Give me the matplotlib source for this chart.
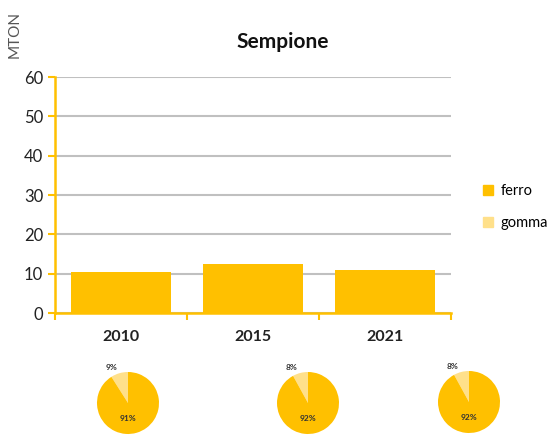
import matplotlib.pyplot as plt
import matplotlib.patches as mpatches

plt.rcParams['font.family'] = ['Lato', 'DejaVu Sans']

anni = ['2010', '2015', '2021']
ferro = [10.3, 12.5, 10.9]
gomma = [0, 0, 0]
quota_gomma = [9, 8, 8]
quota_ferro = [91, 92, 92]

arancio = '#FFC000'
chiaro = '#FFE08A'

fig = plt.figure(figsize=(5.57, 4.43), dpi=100)
ax = fig.add_axes([55/557, 1 - 313/443, 396/557, 236/443])

x = range(len(anni))
ax.bar(x, ferro, width=0.76, color=arancio, zorder=3)
ax.bar(x, gomma, bottom=ferro, width=0.76, color=chiaro, zorder=3)

ax.set_xlim(-0.5, 2.5)
ax.set_ylim(0, 60)
ax.set_yticks(range(0, 61, 10))
ax.set_xticks(list(x))
ax.set_xticklabels(anni, fontweight='bold', fontsize=11.5)
ax.tick_params(axis='y', labelsize=12, colors=arancio, labelcolor='#222222',
               length=5, width=1.5, direction='out')
ax.tick_params(axis='x', length=0, pad=12, labelcolor='#222222')
# tacche tra le categorie
ax.set_xticks([-0.5, 0.5, 1.5, 2.5], minor=True)
ax.tick_params(axis='x', which='minor', length=5, width=1.5, colors=arancio)

ax.grid(axis='y', color='#c0c0c0', linewidth=1.5, zorder=0)
for s in ['top', 'right']:
    ax.spines[s].set_visible(False)
for s in ['left', 'bottom']:
    ax.spines[s].set_color(arancio)
    ax.spines[s].set_linewidth(1.8)

fig.text(283/557, 1 - 42/443, 'Sempione', ha='center', va='center',
         fontsize=15, fontweight='bold', color='#111111')
fig.text(15/557, 1 - 34/443, 'MTON', rotation=90, ha='center', va='center',
         fontsize=11, color='#555555', fontweight='normal')

handles = [mpatches.Patch(color=arancio, label='ferro'),
           mpatches.Patch(color=chiaro, label='gomma')]
fig.legend(handles=handles, loc='center left', bbox_to_anchor=(470/557, 1 - 207/443),
           frameon=False, fontsize=10.5, handlelength=0.7, handleheight=0.7,
           labelspacing=1.2, handletextpad=0.5)

# torte sotto il grafico
centri = [(128, 403), (308, 403), (469, 402)]
r = 31
for (cx, cy), g, f in zip(centri, quota_gomma, quota_ferro):
    pax = fig.add_axes([(cx - r) / 557, 1 - (cy + r) / 443, 2 * r / 557, 2 * r / 443])
    pax.pie([g, f], colors=[chiaro, arancio], startangle=90, counterclock=True,
            radius=1.0, wedgeprops=dict(linewidth=0))
    pax.set_xlim(-1, 1)
    pax.set_ylim(-1, 1)
    pax.text(-0.52, 1.16, f'{g}%', ha='center', va='center', fontsize=6,
             fontweight='bold', color='#333333')
    pax.text(0, -0.5, f'{f}%', ha='center', va='center', fontsize=6,
             fontweight='bold', color='#333333')
    pax.axis('off')

fig.savefig('out.png', dpi=100, facecolor='white')
